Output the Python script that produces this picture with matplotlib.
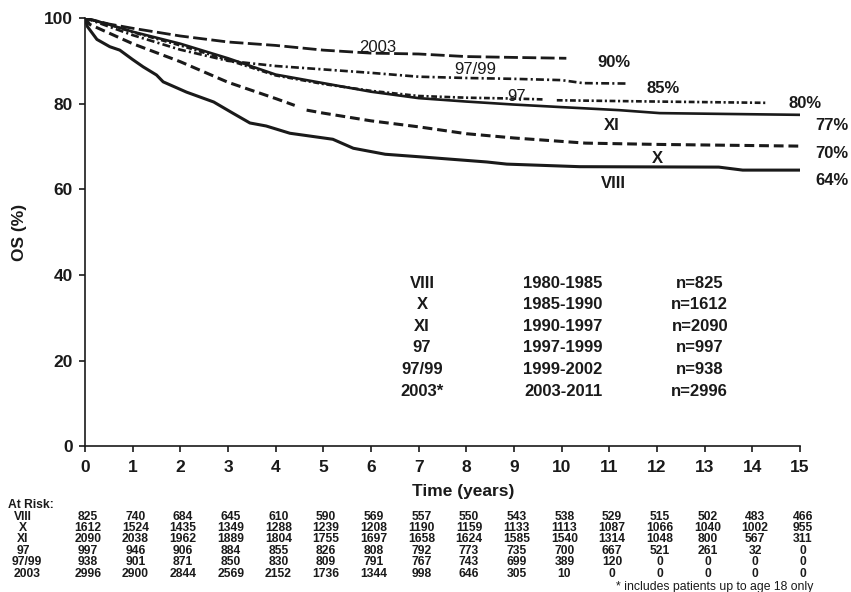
import numpy as np
import matplotlib
matplotlib.use("Agg")
import matplotlib.pyplot as plt
import matplotlib.transforms as mtransforms

plt.rcParams['font.family'] = ['Liberation Sans', 'DejaVu Sans']

# Survival curves (time in years, OS in %)
t_viii = [0, 0.05, 0.15, 0.25, 0.52, 0.73, 1.0, 1.22, 1.5, 1.64, 2.13, 2.7, 3.1, 3.46, 3.8,
          4.3, 5.2, 5.63, 6.3, 7.03, 8.43, 8.85, 10.38, 13.3, 13.8, 15.0]
os_viii = [100, 98, 96.5, 95, 93.3, 92.5, 90.3, 88.6, 86.7, 85.1, 82.7, 80.4, 77.8, 75.5, 74.8,
           73.1, 71.7, 69.6, 68.2, 67.6, 66.4, 65.9, 65.3, 65.2, 64.5, 64.5]

t_x = [0, 0.1, 0.5, 1.0, 2.0, 3.0, 4.0, 4.4, 4.5, 4.65, 5.0, 6.0, 7.0, 8.0, 9.0, 10.0, 10.5, 12.0, 15.0]
os_x = [100, 98.5, 96.5, 94, 89.8, 85, 81.2, 79.6, np.nan, 78.5, 77.8, 76, 74.6, 73, 72, 71.2, 70.8, 70.5, 70.1]

t_xi = [0, 0.5, 1.0, 2.0, 3.0, 4.0, 5.0, 6.0, 7.0, 8.0, 9.0, 10.0, 11.2, 12.06, 13.5, 15.0]
os_xi = [100, 98.5, 96.8, 94, 90.6, 86.8, 84.8, 82.8, 81.3, 80.5, 79.8, 79.2, 78.5, 77.8, 77.6, 77.4]

t_97 = [0, 0.5, 1.0, 2.0, 3.0, 4.0, 5.0, 6.0, 7.0, 8.0, 9.0, 9.6, 9.75, 9.9, 12.0, 14.3]
os_97 = [100, 98.5, 96.7, 93.6, 90.2, 86.6, 84.6, 83, 81.8, 81.4, 81.2, 81, np.nan, 80.8, 80.5, 80.2]

t_9799 = [0, 0.5, 1.0, 2.0, 3.0, 4.0, 5.0, 6.0, 7.0, 8.0, 9.0, 10.0, 10.45, 11.4]
os_9799 = [100, 98, 96, 92.6, 90, 88.8, 88, 87.2, 86.3, 86, 85.8, 85.5, 84.8, 84.7]

t_2003 = [0, 0.5, 1.0, 2.0, 3.0, 4.0, 5.0, 6.0, 7.0, 8.0, 9.0, 10.1]
os_2003 = [100, 98.6, 97.6, 95.8, 94.4, 93.6, 92.5, 91.8, 91.6, 91.0, 90.8, 90.6]

# Legend table inside plot
trial_names = ["VIII", "X", "XI", "97", "97/99", "2003*"]
trial_years = ["1980-1985", "1985-1990", "1990-1997", "1997-1999", "1999-2002", "2003-2011"]
trial_n = ["n=825", "n=1612", "n=2090", "n=997", "n=938", "n=2996"]

# At-risk table
risk_labels = ["VIII", "X", "XI", "97", "97/99", "2003"]
risk_years = list(range(16))
risk_viii = [825, 740, 684, 645, 610, 590, 569, 557, 550, 543, 538, 529, 515, 502, 483, 466]
risk_x = [1612, 1524, 1435, 1349, 1288, 1239, 1208, 1190, 1159, 1133, 1113, 1087, 1066, 1040, 1002, 955]
risk_xi = [2090, 2038, 1962, 1889, 1804, 1755, 1697, 1658, 1624, 1585, 1540, 1314, 1048, 800, 567, 311]
risk_97 = [997, 946, 906, 884, 855, 826, 808, 792, 773, 735, 700, 667, 521, 261, 32, 0]
risk_9799 = [938, 901, 871, 850, 830, 809, 791, 767, 743, 699, 389, 120, 0, 0, 0, 0]
risk_2003 = [2996, 2900, 2844, 2569, 2152, 1736, 1344, 998, 646, 305, 10, 0, 0, 0, 0, 0]

fig = plt.figure(figsize=(8.51, 5.92), dpi=100)
ax = fig.add_axes([0.0999, 0.2458, 0.840, 0.7238])

col = "#1a1a1a"
ax.plot(t_viii, os_viii, color=col, lw=2.2, solid_capstyle='round')
ax.plot(t_x, os_x, color=col, lw=2.2, linestyle=(0, (3.2, 1.6)))
ax.plot(t_xi, os_xi, color=col, lw=1.9)
ax.plot(t_97, os_97, color=col, lw=1.9, linestyle=(0, (2.2, 1.0, 0.8, 1.0)))
ax.plot(t_9799, os_9799, color=col, lw=1.9, linestyle=(0, (3.0, 1.2, 0.8, 1.2)))
ax.plot(t_2003, os_2003, color=col, lw=2.0, linestyle=(0, (5.0, 1.6)))

fs = 12
# curve labels
ax.text(6.15, 93.0, "2003", fontsize=fs, ha='center', va='center', color=col)
ax.text(8.18, 87.9, "97/99", fontsize=fs, ha='center', va='center', color=col)
ax.text(9.06, 81.6, "97", fontsize=fs, ha='center', va='center', color=col)
ax.text(11.06, 74.8, "XI", fontsize=fs, ha='center', va='center', weight='bold', color=col)
ax.text(12.02, 67.3, "X", fontsize=fs, ha='center', va='center', weight='bold', color=col)
ax.text(11.08, 61.4, "VIII", fontsize=fs, ha='center', va='center', weight='bold', color=col)

pct_pos = [(11.1, 89.7, "90%"), (12.13, 83.6, "85%"), (15.1, 80.1, "80%"),
           (15.67, 75.0, "77%"), (15.67, 68.3, "70%"), (15.67, 62.0, "64%")]
for px, py, s in pct_pos:
    ax.text(px, py, s, fontsize=fs, ha='center', va='center', weight='bold', color=col, clip_on=False)

# trial table inside plot
row_y = [38.1, 33.2, 28.1, 23.0, 17.9, 12.9]
for i in range(len(trial_names)):
    ax.text(7.07, row_y[i], trial_names[i], fontsize=fs, ha='center', va='center', weight='bold', color=col)
    ax.text(10.03, row_y[i], trial_years[i], fontsize=fs, ha='center', va='center', weight='bold', color=col)
    ax.text(12.9, row_y[i], trial_n[i], fontsize=fs, ha='center', va='center', weight='bold', color=col)

ax.set_xlim(0, 15)
ax.set_ylim(0, 100)
ax.set_xticks(range(0, 16))
ax.set_yticks([0, 20, 40, 60, 80, 100])
for s in ["top", "right"]:
    ax.spines[s].set_visible(False)
for s in ["left", "bottom"]:
    ax.spines[s].set_linewidth(1.2)
    ax.spines[s].set_color(col)
ax.tick_params(direction='out', length=4, width=1.2, colors=col, labelsize=12.5, pad=5)
ax.tick_params(axis='x', pad=6)
for lab in ax.get_xticklabels() + ax.get_yticklabels():
    lab.set_fontweight('bold')

ax.set_ylabel("OS (%)", fontsize=12.5, weight='bold', color=col, labelpad=12)
fig.text(0.544, 0.169, "Time (years)", fontsize=12.5, weight='bold', ha='center', va='center', color=col)

# at-risk table
rs = 8.7
trans = mtransforms.blended_transform_factory(ax.transData, fig.transFigure)
fig.text(0.009, 1 - 505 / 592, "At Risk:", fontsize=rs, weight='bold', ha='left', va='center', color=col)
risk_rows = [risk_viii, risk_x, risk_xi, risk_97, risk_9799, risk_2003]
risk_py = [516.7, 528.3, 539.2, 551.0, 562.3, 574.0]
label_px = [23, 23, 23, 23, 27, 27]
for r, vals in enumerate(risk_rows):
    yf = 1 - risk_py[r] / 592
    fig.text(label_px[r] / 851, yf, risk_labels[r], fontsize=rs, weight='bold', ha='center', va='center', color=col)
    for xi, v in zip(risk_years, vals):
        ax.text(xi + 0.06, yf, str(v), transform=trans, fontsize=rs, weight='bold',
                ha='center', va='center', color=col, clip_on=False)

fig.text(813 / 851, 1 - 587 / 592, "* includes patients up to age 18 only", fontsize=8.8,
         ha='right', va='center', color=col)

fig.savefig("out.png", dpi=100)
